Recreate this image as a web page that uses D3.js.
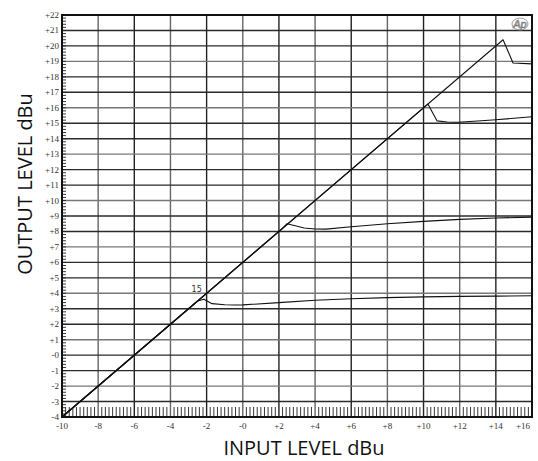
<!DOCTYPE html>
<html>
<head>
<meta charset="utf-8">
<script src="https://cdn.jsdelivr.net/npm/d3@7/dist/d3.min.js"></script>
<style>
  body { margin: 0; background: #fff; }
  svg { display: block; }
</style>
</head>
<body>
<svg id="chart" width="538" height="461"></svg>
<script>
// input / output pairs (dBu)
const curveTopIn   = [-10, 14.4, 14.95, 16];
const curveTopOut  = [-4, 20.4, 18.9, 18.84];
const curve2In     = [-10, 10.24, 10.75, 11.3, 11.9, 13, 14, 15, 16];
const curve2Out    = [-4, 16.24, 15.15, 15.08, 15.06, 15.14, 15.23, 15.32, 15.42];
const curve3In     = [-10, 2.2, 2.45, 3.4, 4, 4.6, 6, 8, 10, 12, 14, 16];
const curve3Out    = [-4, 8.2, 8.5, 8.22, 8.16, 8.15, 8.3, 8.5, 8.65, 8.78, 8.87, 8.93];
const curve4In     = [-10, -2.5, -2.15, -1.7, -1, -0.4, 0, 2, 4, 6, 8, 10, 12, 14, 16];
const curve4Out    = [-4, 3.5, 3.62, 3.33, 3.26, 3.24, 3.25, 3.4, 3.55, 3.65, 3.72, 3.77, 3.8, 3.82, 3.84];
const curves = [[curveTopIn, curveTopOut], [curve2In, curve2Out], [curve3In, curve3Out], [curve4In, curve4Out]];

const xTicks = d3.range(-10, 17, 2);
const yTicks = d3.range(-4, 23, 1);
const markerLabel = { x: -2.55, y: 4.1, text: '15' };

const svg = d3.select('#chart');
const pLeft = 62, pRight = 532, pTop = 15, pBottom = 417;

const x = d3.scaleLinear().domain([-10, 16]).range([pLeft, pRight]);
const y = d3.scaleLinear().domain([-4, 22]).range([pBottom, pTop]);

const fmt = (v) => (v > 0 ? '+' + v : (v === 0 ? '-0' : '' + v));

// grid
const grid = svg.append('g');
grid.selectAll('line.v').data(xTicks.slice(1, -1)).enter()
  .append('line')
  .attr('x1', (d) => x(d)).attr('x2', (d) => x(d))
  .attr('y1', pTop).attr('y2', pBottom)
  .attr('stroke', (d, i) => i % 2 ? '#222' : '#666')
  .attr('stroke-width', 1.4);
grid.selectAll('line.h').data(yTicks.slice(1, -1)).enter()
  .append('line')
  .attr('x1', pLeft).attr('x2', pRight)
  .attr('y1', (d) => y(d)).attr('y2', (d) => y(d))
  .attr('stroke', (d, i) => i % 3 === 1 ? '#777' : '#2a2a2a')
  .attr('stroke-width', 1.4);

// minor ticks, bottom and left
const minorX = d3.range(-10, 16.01, 0.2).filter((v) => Math.abs(v / 2 - Math.round(v / 2)) > 0.01);
svg.append('g').selectAll('line').data(minorX).enter()
  .append('line')
  .attr('x1', (d) => x(d)).attr('x2', (d) => x(d))
  .attr('y1', pBottom).attr('y2', pBottom - 10)
  .attr('stroke', '#222').attr('stroke-width', 0.9);
const minorY = d3.range(-4, 22.01, 0.2);
svg.append('g').selectAll('line').data(minorY).enter()
  .append('line')
  .attr('x1', pLeft).attr('x2', pLeft + 4)
  .attr('y1', (d) => y(d)).attr('y2', (d) => y(d))
  .attr('stroke', '#222').attr('stroke-width', 0.9);

// frame
svg.append('rect')
  .attr('x', pLeft).attr('y', pTop)
  .attr('width', pRight - pLeft).attr('height', pBottom - pTop)
  .attr('fill', 'none').attr('stroke', '#111').attr('stroke-width', 2);

// tick labels
svg.append('g').selectAll('text').data(yTicks).enter()
  .append('text')
  .attr('x', pLeft - 3).attr('y', (d) => y(d) + 3)
  .attr('text-anchor', 'end')
  .attr('font-family', 'Liberation Serif, serif')
  .attr('font-size', '9px').attr('fill', '#333')
  .text(fmt);
svg.append('g').selectAll('text').data(xTicks).enter()
  .append('text')
  .attr('x', (d) => d === 16 ? x(d) - 9 : x(d))
  .attr('y', pBottom + 12)
  .attr('text-anchor', 'middle')
  .attr('font-family', 'Liberation Serif, serif')
  .attr('font-size', '9px').attr('fill', '#333')
  .text(fmt);

// curves
const line = d3.line().x((d) => x(d[0])).y((d) => y(d[1]));
svg.append('g').selectAll('path').data(curves).enter()
  .append('path')
  .attr('d', (c) => line(c[0].map((v, i) => [v, c[1][i]])))
  .attr('fill', 'none')
  .attr('stroke', '#111')
  .attr('stroke-width', 1.1)
  .attr('stroke-linejoin', 'round');

svg.append('text')
  .attr('x', x(markerLabel.x)).attr('y', y(markerLabel.y))
  .attr('text-anchor', 'middle')
  .attr('font-family', 'DejaVu Sans, sans-serif')
  .attr('font-size', '8px').attr('fill', '#333')
  .text(markerLabel.text);

// Ap logo
svg.append('ellipse')
  .attr('cx', pRight - 12).attr('cy', pTop + 9)
  .attr('rx', 8).attr('ry', 6)
  .attr('fill', 'none').attr('stroke', '#888').attr('stroke-width', 0.8);
svg.append('text')
  .attr('x', pRight - 12).attr('y', pTop + 13)
  .attr('text-anchor', 'middle')
  .attr('font-family', 'Liberation Sans, sans-serif')
  .attr('font-style', 'italic')
  .attr('font-size', '11px')
  .attr('fill', '#fff').attr('stroke', '#777').attr('stroke-width', 0.7)
  .text('Ap');

// axis titles
svg.append('text')
  .attr('transform', 'translate(32,184) rotate(-90)')
  .attr('text-anchor', 'middle')
  .attr('font-family', 'Open Sans, sans-serif')
  .attr('font-size', '20px').attr('fill', '#111')
  .text('OUTPUT LEVEL dBu');
svg.append('text')
  .attr('x', 304).attr('y', 455)
  .attr('text-anchor', 'middle')
  .attr('font-family', 'Open Sans, sans-serif')
  .attr('font-size', '20px').attr('fill', '#111')
  .text('INPUT LEVEL dBu');
</script>
</body>
</html>
